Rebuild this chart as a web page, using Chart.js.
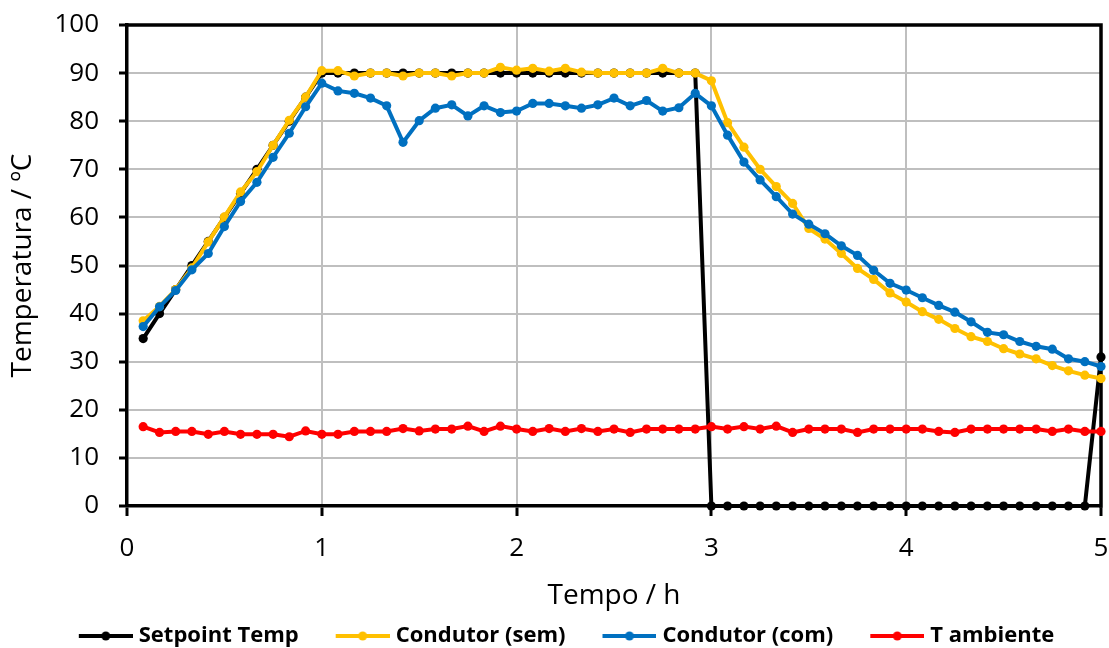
<!DOCTYPE html>
<html><head><meta charset="utf-8">
<script src="https://cdn.jsdelivr.net/npm/chart.js@4.4.0/dist/chart.umd.min.js"></script>
<style>html,body{margin:0;padding:0;background:#fff;overflow:hidden}</style>
</head><body>
<canvas id="c" width="1109" height="648"></canvas>
<script>
const times = [0.083,0.167,0.25,0.333,0.417,0.5,0.583,0.667,0.75,0.833,0.917,1,
  1.083,1.167,1.25,1.333,1.417,1.5,1.583,1.667,1.75,1.833,1.917,2,
  2.083,2.167,2.25,2.333,2.417,2.5,2.583,2.667,2.75,2.833,2.917,3,
  3.083,3.167,3.25,3.333,3.417,3.5,3.583,3.667,3.75,3.833,3.917,4,
  4.083,4.167,4.25,4.333,4.417,4.5,4.583,4.667,4.75,4.833,4.917,5];
const setpointTemp = [34.8,40,45,50,55,60,65,70,75,80,85,90,
  90,90,90,90,90,90,90,90,90,90,90,90,
  90,90,90,90,90,90,90,90,90,90,90,0,
  0,0,0,0,0,0,0,0,0,0,0,0,
  0,0,0,0,0,0,0,0,0,0,0,31];
const condutorSem = [38.5,41.5,45,49.5,54.9,60.1,65.3,69.5,75,80.2,85,90.5,
  90.5,89.4,90,90,89.4,90,90,89.4,90,90,91.2,90.6,
  91,90.4,91,90.2,90,90,90,90,91,90,90,88.4,
  79.7,74.6,70,66.4,62.9,57.7,55.5,52.5,49.4,47.1,44.3,42.4,
  40.4,38.8,36.9,35.2,34.2,32.7,31.6,30.6,29.2,28.1,27.2,26.5];
const condutorCom = [37.3,41.4,44.8,49.1,52.5,58.1,63.3,67.3,72.5,77.5,83,87.9,
  86.3,85.8,84.8,83.2,75.6,80.1,82.7,83.4,81.1,83.2,81.8,82.1,
  83.7,83.7,83.2,82.7,83.4,84.8,83.2,84.3,82.1,82.8,85.8,83.2,
  77.1,71.5,67.8,64.3,60.7,58.6,56.6,54.1,52.1,49,46.3,44.9,
  43.3,41.7,40.3,38.3,36.1,35.6,34.2,33.2,32.6,30.6,30,29];
const tAmbiente = [16.5,15.3,15.5,15.5,14.9,15.5,14.9,14.9,14.9,14.4,15.6,14.9,
  14.9,15.5,15.5,15.5,16.1,15.6,16,16,16.6,15.5,16.6,16,
  15.5,16.1,15.5,16.1,15.5,16,15.3,16,16,16,16,16.5,
  16,16.5,16,16.6,15.3,16,16,16,15.3,16,16,16,
  16,15.5,15.3,16,16,16,16,16,15.5,16,15.5,15.5];
const seriesNames = ['Setpoint Temp','Condutor (sem)','Condutor (com)','T ambiente'];
const seriesValues = [setpointTemp, condutorSem, condutorCom, tAmbiente];
const seriesColors = ['#000000','#FFC000','#0070C0','#FF0000'];
const xTickValues = [0,1,2,3,4,5];
const yTickValues = [0,10,20,30,40,50,60,70,80,90,100];
const xTitle = 'Tempo / h';
const yTitle = 'Temperatura / ºC';

const LEG_PAD = 5, LEG_W = 81;
function legendIcon(color){
  const C = LEG_W + 10;
  const c = document.createElement('canvas');
  c.width = C; c.height = 14;
  const g = c.getContext('2d');
  g.strokeStyle = color; g.lineWidth = 4;
  g.beginPath(); g.moveTo(C-54, 7); g.lineTo(C, 7); g.stroke();
  g.fillStyle = color; g.beginPath(); g.arc(C-27, 7, 4.5, 0, Math.PI*2); g.fill();
  return c;
}
const icons = seriesColors.map(legendIcon);

const boxPlugin = {
  id: 'plotBox',
  beforeDatasetsDraw(chart){
    const a = chart.chartArea, ctx = chart.ctx;
    ctx.save();
    ctx.strokeStyle = '#000'; ctx.lineWidth = 3.5; ctx.lineCap = 'square';
    ctx.beginPath();
    ctx.moveTo(a.left, a.top); ctx.lineTo(a.right, a.top); ctx.lineTo(a.right, a.bottom);
    ctx.stroke();
    ctx.restore();
  }
};

function draw(){
  const datasets = seriesNames.map((name, i) => ({
    label: name,
    data: times.map((t, k) => ({x: t, y: seriesValues[i][k]})),
    borderColor: seriesColors[i],
    backgroundColor: seriesColors[i],
    pointBackgroundColor: seriesColors[i],
    pointBorderWidth: 0,
    pointRadius: 4.6,
    borderWidth: 4,
    tension: 0,
    clip: false,
    order: 4 - i
  }));
  new Chart(document.getElementById('c'), {
    type: 'line',
    data: {datasets},
    plugins: [boxPlugin],
    options: {
      responsive: false,
      animation: false,
      layout: {padding: {top: 25, right: 8, bottom: -9, left: 0}},
      plugins: {
        tooltip: {enabled: false},
        legend: {
          position: 'bottom',
          labels: {
            usePointStyle: true,
            pointStyleWidth: LEG_W,
            padding: LEG_PAD,
            color: '#000',
            font: {family: 'Open Sans', size: 22, weight: 'bold'},
            generateLabels(chart){
              return chart.data.datasets.map((ds, i) => ({
                text: ds.label, pointStyle: icons[i], fillStyle: ds.borderColor,
                strokeStyle: ds.borderColor, lineWidth: 0, hidden: false,
                datasetIndex: i, fontColor: '#000'
              }));
            }
          }
        }
      },
      scales: {
        x: {
          type: 'linear', min: 0, max: 5,
          afterFit(s){ s.height = 114; s.paddingLeft = 0; s.paddingRight = 0; },
          afterBuildTicks(s){ s.ticks = xTickValues.map(v => ({value: v})); },
          ticks: {color: '#000', font: {family: 'Open Sans', size: 26}, padding: 17, maxRotation: 0},
          grid: {color: '#bfbfbf', lineWidth: 2, tickColor: '#000', tickLength: 10, tickWidth: 3},
          border: {color: '#000', width: 3.5},
          title: {display: true, text: xTitle, color: '#000', font: {family: 'Open Sans', size: 28}, padding: {top: 0, bottom: 7}}
        },
        y: {
          type: 'linear', min: 0, max: 100,
          afterFit(s){ s.width = 127; s.paddingTop = 0; s.paddingBottom = 0; },
          afterBuildTicks(s){ s.ticks = yTickValues.map(v => ({value: v})); },
          ticks: {color: '#000', font: {family: 'Open Sans', size: 26}, padding: 20},
          grid: {color: '#bfbfbf', lineWidth: 2, tickColor: '#000', tickLength: 8, tickWidth: 3},
          border: {color: '#000', width: 3.5},
          title: {display: true, text: yTitle, color: '#000', font: {family: 'Open Sans', size: 28}, padding: {top: 6, bottom: 0}}
        }
      }
    }
  });
}
Promise.all([
  document.fonts.load('26px "Open Sans"'),
  document.fonts.load('bold 22px "Open Sans"')
]).then(draw, draw);
</script>
</body></html>
